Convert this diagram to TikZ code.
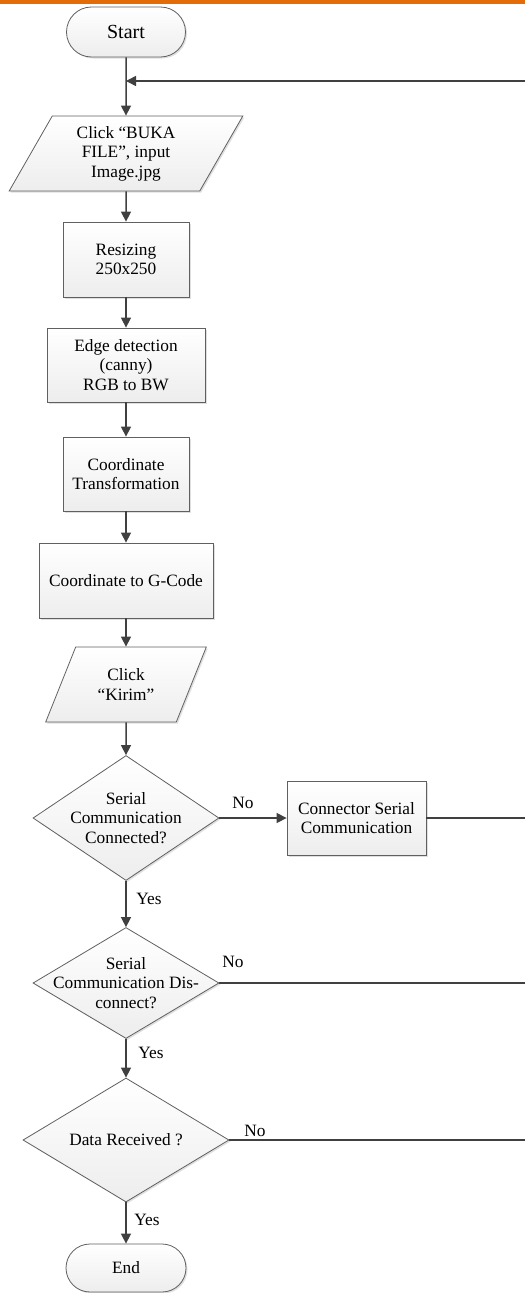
\documentclass[tikz,border=0pt]{standalone}
\usepackage{fontspec}
\setmainfont{Liberation Serif}
\usepackage{tikz}
\usepackage{xcolor}
\usetikzlibrary{shapes.geometric,shapes.misc,arrows.meta,shadows}
\definecolor{barorange}{HTML}{E36C09}
\definecolor{linegray}{HTML}{404040}
\definecolor{edgegray}{HTML}{606060}

\begin{document}
\begin{tikzpicture}[x=1pt,y=-1pt,
        box/.style={draw=edgegray,line width=0.8pt,top color=white,bottom color=gray!14,
            drop shadow={shadow xshift=1.5pt,shadow yshift=-1.5pt,opacity=0.25},
            align=center,font=\fontsize{17.3}{19.5}\selectfont,inner sep=2pt},
        process/.style={box,rectangle,minimum height=75pt},
        terminal/.style={box,rounded rectangle,minimum width=123pt,minimum height=50pt},
        io/.style={box,trapezium,trapezium left angle=63,trapezium right angle=117,
            trapezium stretches=true,minimum height=75pt},
        decision/.style={box,diamond,inner xsep=0pt},
        flow/.style={draw=linegray,line width=1.5pt,-{Triangle[length=10pt,width=10pt]}},
        wire/.style={draw=linegray,line width=1.5pt},
        tag/.style={font=\fontsize{17.3}{19.5}\selectfont,inner sep=0pt}]
        \useasboundingbox (0,0) rectangle (525,1293);
        \fill[barorange] (0,0) rectangle (525,4);
        \node[terminal,font=\fontsize{20}{22}\selectfont] (start) at (126,32) {Start};
        \node[io,minimum width=234pt] (open) at (126,153.5) {Click “BUKA\\FILE”, input\\Image.jpg};
        \node[process,minimum width=126pt] (resize) at (126,259.5) {Resizing\\250x250};
        \node[process,minimum width=158pt,minimum height=74pt] (edge) at (126,365) {Edge detection\\(canny)\\RGB to BW};
        \node[process,minimum width=126pt,minimum height=74pt] (trans) at (126,474) {Coordinate\\Transformation};
        \node[process,minimum width=174pt] (gcode) at (126,580.5) {Coordinate to G-Code};
        \node[io,minimum width=161pt] (send) at (126,684.5) {Click\\“Kirim”};
        \node[decision,minimum width=186pt,minimum height=125pt,shape aspect=1.49,inner ysep=-8pt] (conn) at (126,818) {Serial\\Communication\\Connected?};
        \node[process,minimum width=139pt,minimum height=74pt] (port) at (356.5,818) {Connector Serial\\Communication};
        \node[decision,minimum width=186pt,minimum height=111pt,shape aspect=1.68,inner ysep=-17pt] (disc) at (126,983) {Serial\\Communication Dis-\\connect?};
        \node[decision,minimum width=206pt,minimum height=124pt,shape aspect=1.66] (recv) at (126,1140) {Data Received ?};
        \node[terminal,minimum width=124pt,minimum height=48pt] (end) at (126,1268) {End};
        \coordinate (back) at (525,81);
        \coordinate (r1) at (525,818);
        \coordinate (r2) at (525,983);
        \coordinate (r3) at (525,1140);
        \draw[flow] (start) -- (open);
        \draw[flow] (back) -- (back -| start);
        \draw[flow] (open) -- (resize);
        \draw[flow] (resize) -- (edge);
        \draw[flow] (edge) -- (trans);
        \draw[flow] (trans) -- (gcode);
        \draw[flow] (gcode) -- (send);
        \draw[flow] (send) -- (conn);
        \draw[flow] (conn) -- (port);
        \draw[wire] (port) -- (r1);
        \draw[flow] (conn) -- (disc);
        \draw[wire] (disc) -- (r2);
        \draw[flow] (disc) -- (recv);
        \draw[wire] (recv) -- (r3);
        \draw[flow] (recv) -- (end);
        \node[tag] (no1) at (243,803) {No};
        \node[tag] (no2) at (233,962) {No};
        \node[tag] (no3) at (255,1131) {No};
        \node[tag] (yes1) at (149,899) {Yes};
        \node[tag] (yes2) at (151,1053) {Yes};
        \node[tag] (yes3) at (147,1220) {Yes};
    \end{tikzpicture}
\end{document}
